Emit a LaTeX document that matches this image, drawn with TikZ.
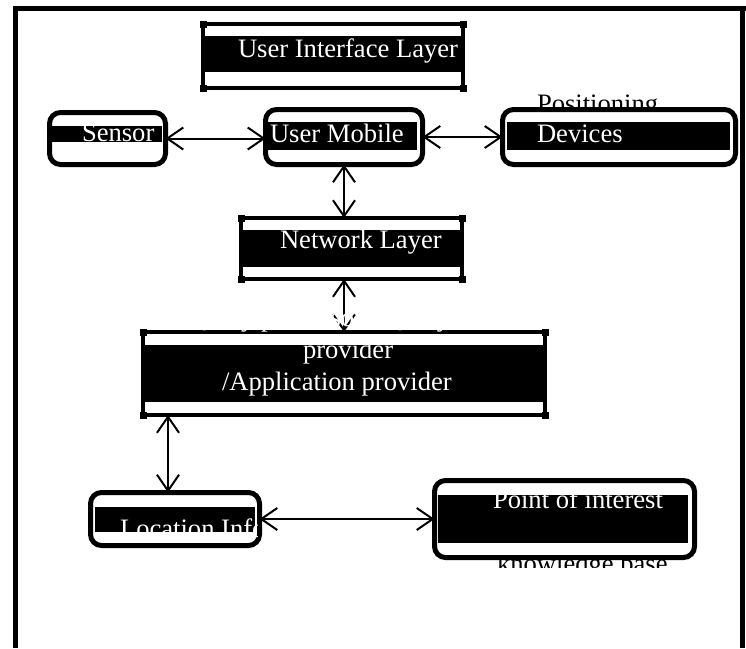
\documentclass[tikz,border=0pt]{standalone}
\usepackage{fontspec}
\setmainfont{Liberation Serif}
\usetikzlibrary{arrows.meta,calc}
\begin{document}
\begin{tikzpicture}[x=1pt,y=-1pt,
  frameline/.style={line width=5pt},
  shapebox/.style={inner sep=0pt, outer sep=0pt, draw=none},
  roundborder/.style={draw, line width=5pt, rounded corners=11pt},
  barline/.style={line width=4.5pt},
  sideline/.style={line width=3.5pt},
  arr/.style={line width=2pt, {Straight Barb[length=16pt,width=22pt,line width=2pt]}-{Straight Barb[length=16pt,width=22pt,line width=2pt]}},
  wtxt/.style={text=white, inner sep=0pt, outer sep=0pt, font=\fontsize{26.6}{30}\selectfont, anchor=base west},
  btxt/.style={text=black, inner sep=0pt, outer sep=0pt, font=\fontsize{26.6}{30}\selectfont, anchor=base west}
]
\useasboundingbox (0,0) rectangle (746,648);
\fill[white] (0,0) rectangle (746,648);

% outer frame
\draw[frameline] (13,8.5) -- (746,8.5);
\draw[frameline] (15.5,6) -- (15.5,648);
\draw[frameline] (742.5,6) -- (742.5,648);

% layer boxes (rectangular, with bars)
\node[shapebox, minimum width=260pt, minimum height=64pt] (ui) at (333,56) {};
\node[shapebox, minimum width=221pt, minimum height=61pt] (net) at (351.5,248.5) {};
\node[shapebox, minimum width=402pt, minimum height=83pt] (query) at (344,373.5) {};

% rounded boxes
\node[shapebox, minimum width=116pt, minimum height=52pt] (sensor) at (107.5,138.5) {};
\node[shapebox, minimum width=157pt, minimum height=55pt] (mobile) at (344,137) {};
\node[shapebox, minimum width=233pt, minimum height=55pt] (dev) at (619,137) {};
\node[shapebox, minimum width=169pt, minimum height=53pt] (loc) at (175,519) {};
\node[shapebox, minimum width=260pt, minimum height=77pt] (poi) at (564.5,519) {};

% black bands
\fill (203,36) rectangle (463,72);
\fill (241,230) rectangle (462,267);
\fill (143,345) rectangle (545,402);
\fill (52,126) rectangle (162,142);
\fill (267,122) rectangle (417,150);
\fill (507,122) rectangle (730,150);
\fill (95,507) rectangle (255,532);
\fill (438,495) rectangle (688,543);

% layer box frames
\foreach \b in {ui,net,query}{
  \draw[barline] ([xshift=-2pt]\b.north west) -- ([xshift=2pt]\b.north east);
  \draw[barline] ([xshift=-2pt]\b.south west) -- ([xshift=2pt]\b.south east);
  \draw[sideline] (\b.north west) -- (\b.south west);
  \draw[sideline] (\b.north east) -- (\b.south east);
  \foreach \a in {north west,north east,south west,south east}
    \fill ([shift={(-3.5pt,-3.5pt)}]\b.\a) rectangle ++(7pt,7pt);
}

% rounded box frames
\foreach \b in {sensor,mobile,dev,loc,poi}
  \draw[roundborder] (\b.north west) rectangle (\b.south east);

% connectors
\draw[arr] (sensor.east) -- (sensor.east -| mobile.west);
\draw[arr] (mobile.east) -- (mobile.east -| dev.west);
\draw[arr] (mobile.south) -- (mobile.south |- net.north);
\draw[arr] (mobile.south |- net.south) -- (mobile.south |- query.north);
\coordinate (qloc) at ([xshift=-7pt]loc.north);
\draw[arr] (qloc |- query.south) -- (qloc);
\draw[arr] (loc.east) -- (loc.east -| poi.west);

% texts
\node[wtxt] (tui) at (238,57) {User Interface Layer};
\node[wtxt] (tsensor) at (82,141) {Sensor};
\node[wtxt] (tmobile) at (270,142) {User Mobile};
\node[wtxt] (tdev) at (537,142) {Devices};
\begin{scope}
  \clip (530,94) rectangle (700,106.5);
  \node[btxt] (tpos) at (537,112) {Positioning};
\end{scope}
\node[wtxt] (tnet) at (280,248) {Network Layer};
\node[wtxt] (tq1) at (188,326) {Query processor / Query};
\node[wtxt] (tq2) at (303,358) {provider};
\node[wtxt] (tq3) at (222,390) {/Application provider};
\begin{scope}
  \clip (95,495) rectangle (257,545);
  \node[wtxt] (tloc) at (120,537) {Location Information};
\end{scope}
\begin{scope}
  \clip (438,495) rectangle (688,543);
  \node[wtxt] (tpoi) at (493,508) {Point of interest};
\end{scope}
\begin{scope}
  \clip (480,560) rectangle (700,567);
  \node[btxt] (tkb) at (497,572) {knowledge base};
\end{scope}
\end{tikzpicture}
\end{document}
